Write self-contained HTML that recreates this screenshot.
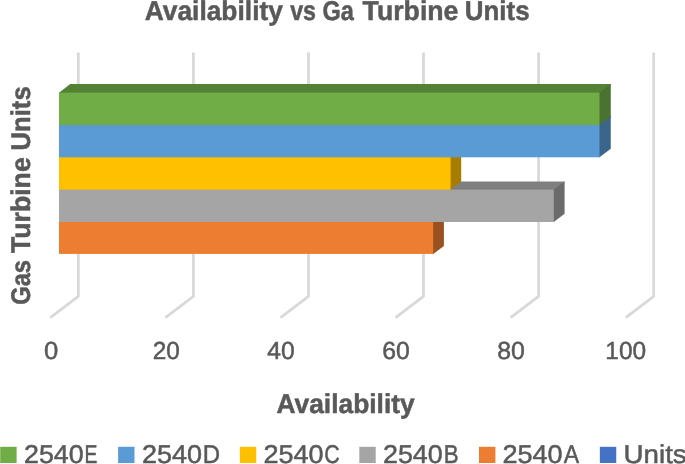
<!DOCTYPE html>
<html><head><meta charset="utf-8"><title>Availability vs Gas Turbine Units</title>
<style>
html,body{margin:0;padding:0;background:#fff;overflow:hidden}
svg{display:block;font-family:"Liberation Sans",sans-serif;will-change:transform}
</style></head><body>
<svg width="685" height="464" viewBox="0 0 685 464">
<polyline points="78.3,52.4 78.3,296.3 50.3,317.7" fill="none" stroke="#d9d9d9" stroke-width="2.8" stroke-linejoin="round"/>
<polyline points="193.4,52.4 193.4,296.3 165.4,317.7" fill="none" stroke="#d9d9d9" stroke-width="2.8" stroke-linejoin="round"/>
<polyline points="308.5,52.4 308.5,296.3 280.5,317.7" fill="none" stroke="#d9d9d9" stroke-width="2.8" stroke-linejoin="round"/>
<polyline points="423.5,52.4 423.5,296.3 395.5,317.7" fill="none" stroke="#d9d9d9" stroke-width="2.8" stroke-linejoin="round"/>
<polyline points="538.6,52.4 538.6,296.3 510.6,317.7" fill="none" stroke="#d9d9d9" stroke-width="2.8" stroke-linejoin="round"/>
<polyline points="653.7,52.4 653.7,296.3 625.7,317.7" fill="none" stroke="#d9d9d9" stroke-width="2.8" stroke-linejoin="round"/>
<polygon points="59.00,223.00 59.00,222.00 69.70,214.00 443.90,214.00 443.90,215.00 433.20,223.00" fill="#b25e25"/>
<polygon points="432.20,222.00 433.20,222.00 443.90,214.00 443.90,245.90 433.20,253.90 432.20,253.90" fill="#9a5120"/>
<rect x="59.00" y="222.00" width="374.20" height="31.90" fill="#ed7d31"/>
<rect x="59.00" y="221.00" width="373.20" height="1.50" fill="#ed7d31"/>
<polygon points="59.00,190.60 59.00,189.60 69.80,181.40 564.60,181.40 564.60,182.40 553.80,190.60" fill="#7f7f7f"/>
<polygon points="552.80,189.60 553.80,189.60 564.60,181.40 564.60,213.80 553.80,222.00 552.80,222.00" fill="#6b6b6b"/>
<rect x="59.00" y="189.60" width="494.80" height="32.40" fill="#a5a5a5"/>
<rect x="59.00" y="188.60" width="390.60" height="1.50" fill="#a5a5a5"/>
<polygon points="59.00,158.30 59.00,157.30 69.60,149.10 461.20,149.10 461.20,150.10 450.60,158.30" fill="#bf9000"/>
<polygon points="449.60,157.30 450.60,157.30 461.20,149.10 461.20,181.40 450.60,189.60 449.60,189.60" fill="#a67d00"/>
<rect x="59.00" y="157.30" width="391.60" height="32.30" fill="#ffc000"/>
<rect x="59.00" y="156.30" width="390.60" height="1.50" fill="#ffc000"/>
<polygon points="59.00,126.10 59.00,125.10 70.25,116.50 610.75,116.50 610.75,117.50 599.50,126.10" fill="#4474a0"/>
<polygon points="598.50,124.10 599.50,124.10 610.75,115.50 610.75,148.70 599.50,157.30 598.50,157.30" fill="#3b658b"/>
<rect x="59.00" y="125.10" width="540.50" height="32.20" fill="#5b9bd5"/>
<rect x="59.00" y="124.10" width="539.50" height="1.50" fill="#5b9bd5"/>
<polygon points="59.00,93.65 59.00,92.65 70.25,84.10 610.75,84.10 610.75,85.10 599.50,93.65" fill="#548235"/>
<polygon points="598.50,92.65 599.50,92.65 610.75,84.10 610.75,116.55 599.50,125.10 598.50,125.10" fill="#4a7230"/>
<rect x="59.00" y="92.65" width="540.50" height="32.45" fill="#70ad47"/>
<rect x="0.2" y="446.8" width="16.4" height="16.2" fill="#70ad47"/>
<rect x="118.1" y="446.8" width="16.4" height="16.2" fill="#5b9bd5"/>
<rect x="239.85" y="446.8" width="16.4" height="16.2" fill="#ffc000"/>
<rect x="359.3" y="446.8" width="16.4" height="16.2" fill="#a5a5a5"/>
<rect x="479.0" y="446.8" width="16.4" height="16.2" fill="#ed7d31"/>
<rect x="599.85" y="446.8" width="16.4" height="16.2" fill="#4472c4"/>
<text text-rendering="geometricPrecision" transform="translate(144.65,20.00) scale(0.9650,1)" font-size="27.33" font-weight="bold" fill="#595959" stroke="#595959" stroke-width="0.5" stroke-linejoin="round">Availability</text>
<text text-rendering="geometricPrecision" transform="translate(290.15,20.00) scale(0.8488,1)" font-size="27.33" font-weight="bold" fill="#595959" stroke="#595959" stroke-width="0.5" stroke-linejoin="round">vs</text>
<text text-rendering="geometricPrecision" transform="translate(322.45,20.00) scale(0.8597,1)" font-size="27.33" font-weight="bold" fill="#595959" stroke="#595959" stroke-width="0.5" stroke-linejoin="round">Ga</text>
<text text-rendering="geometricPrecision" transform="translate(362.55,20.00) scale(0.9769,1)" font-size="27.33" font-weight="bold" fill="#595959" stroke="#595959" stroke-width="0.5" stroke-linejoin="round">Turbine</text>
<text text-rendering="geometricPrecision" transform="translate(464.80,20.00) scale(0.9479,1)" font-size="27.33" font-weight="bold" fill="#595959" stroke="#595959" stroke-width="0.5" stroke-linejoin="round">Units</text>
<text text-rendering="geometricPrecision" transform="translate(276.45,413.00) scale(0.9704,1)" font-size="27.18" font-weight="bold" fill="#595959" stroke="#595959" stroke-width="0.5" stroke-linejoin="round">Availability</text>
<text text-rendering="geometricPrecision" transform="translate(30.40,304.70) rotate(-90) scale(0.8738,1)" font-size="27.03" font-weight="bold" fill="#595959" stroke="#595959" stroke-width="0.5" stroke-linejoin="round">Gas</text>
<text text-rendering="geometricPrecision" transform="translate(30.40,252.95) rotate(-90) scale(0.9855,1)" font-size="27.03" font-weight="bold" fill="#595959" stroke="#595959" stroke-width="0.5" stroke-linejoin="round">Turbine</text>
<text text-rendering="geometricPrecision" transform="translate(30.40,150.55) rotate(-90) scale(0.9510,1)" font-size="27.03" font-weight="bold" fill="#595959" stroke="#595959" stroke-width="0.5" stroke-linejoin="round">Units</text>
<text text-rendering="geometricPrecision" transform="translate(44.10,359.00) scale(1.0451,1)" font-size="24.56" font-weight="normal" fill="#595959" stroke="#595959" stroke-width="0.5" stroke-linejoin="round">0</text>
<text text-rendering="geometricPrecision" transform="translate(152.80,359.00) scale(0.9923,1)" font-size="24.56" font-weight="normal" fill="#595959" stroke="#595959" stroke-width="0.5" stroke-linejoin="round">20</text>
<text text-rendering="geometricPrecision" transform="translate(267.30,359.00) scale(1.0039,1)" font-size="24.56" font-weight="normal" fill="#595959" stroke="#595959" stroke-width="0.5" stroke-linejoin="round">40</text>
<text text-rendering="geometricPrecision" transform="translate(382.15,359.00) scale(1.0099,1)" font-size="24.56" font-weight="normal" fill="#595959" stroke="#595959" stroke-width="0.5" stroke-linejoin="round">60</text>
<text text-rendering="geometricPrecision" transform="translate(497.25,359.00) scale(1.0117,1)" font-size="24.56" font-weight="normal" fill="#595959" stroke="#595959" stroke-width="0.5" stroke-linejoin="round">80</text>
<text text-rendering="geometricPrecision" transform="translate(605.30,359.00) scale(0.9962,1)" font-size="24.56" font-weight="normal" fill="#595959" stroke="#595959" stroke-width="0.5" stroke-linejoin="round">100</text>
<text text-rendering="geometricPrecision" transform="translate(24.00,463.00) scale(1.0432,1)" font-size="25.73" font-weight="normal" fill="#595959" stroke="#595959" stroke-width="0.5" stroke-linejoin="round">2540</text>
<text text-rendering="geometricPrecision" transform="translate(84.50,463.00) scale(0.7518,1)" font-size="25.73" font-weight="normal" fill="#595959" stroke="#595959" stroke-width="0.5" stroke-linejoin="round">E</text>
<text text-rendering="geometricPrecision" transform="translate(141.90,463.00) scale(1.0489,1)" font-size="25.73" font-weight="normal" fill="#595959" stroke="#595959" stroke-width="0.5" stroke-linejoin="round">2540</text>
<text text-rendering="geometricPrecision" transform="translate(202.65,463.00) scale(0.9334,1)" font-size="25.73" font-weight="normal" fill="#595959" stroke="#595959" stroke-width="0.5" stroke-linejoin="round">D</text>
<text text-rendering="geometricPrecision" transform="translate(263.40,463.00) scale(1.0498,1)" font-size="25.73" font-weight="normal" fill="#595959" stroke="#595959" stroke-width="0.5" stroke-linejoin="round">2540</text>
<text text-rendering="geometricPrecision" transform="translate(324.15,463.00) scale(0.8329,1)" font-size="25.73" font-weight="normal" fill="#595959" stroke="#595959" stroke-width="0.5" stroke-linejoin="round">C</text>
<text text-rendering="geometricPrecision" transform="translate(383.00,463.00) scale(1.0441,1)" font-size="25.73" font-weight="normal" fill="#595959" stroke="#595959" stroke-width="0.5" stroke-linejoin="round">2540</text>
<text text-rendering="geometricPrecision" transform="translate(443.85,463.00) scale(0.8671,1)" font-size="25.73" font-weight="normal" fill="#595959" stroke="#595959" stroke-width="0.5" stroke-linejoin="round">B</text>
<text text-rendering="geometricPrecision" transform="translate(502.40,463.00) scale(1.0525,1)" font-size="25.73" font-weight="normal" fill="#595959" stroke="#595959" stroke-width="0.5" stroke-linejoin="round">2540</text>
<text text-rendering="geometricPrecision" transform="translate(563.75,463.00) scale(0.8972,1)" font-size="25.73" font-weight="normal" fill="#595959" stroke="#595959" stroke-width="0.5" stroke-linejoin="round">A</text>
<text text-rendering="geometricPrecision" transform="translate(623.60,463.00) scale(1.0764,1)" font-size="25.73" font-weight="normal" fill="#595959" stroke="#595959" stroke-width="0.5" stroke-linejoin="round">Units</text>
</svg>
</body></html>
